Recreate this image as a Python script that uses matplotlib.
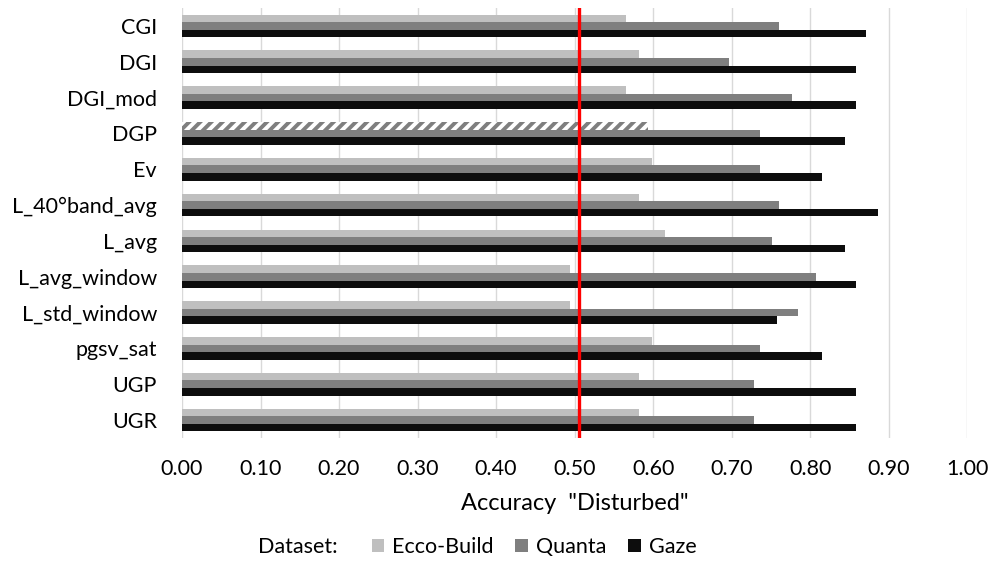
import matplotlib.pyplot as plt
import numpy as np

plt.rcParams['font.family'] = ['Lato', 'DejaVu Sans']
plt.rcParams['hatch.linewidth'] = 2.8

metrics = ["CGI", "DGI", "DGI_mod", "DGP", "Ev", "L_40°band_avg", "L_avg",
           "L_avg_window", "L_std_window", "pgsv_sat", "UGP", "UGR"]
ecco = [0.565, 0.582, 0.565, 0.594, 0.598, 0.582, 0.615, 0.494, 0.494, 0.598, 0.582, 0.582]
quanta = [0.760, 0.696, 0.777, 0.736, 0.736, 0.760, 0.752, 0.808, 0.785, 0.736, 0.729, 0.729]
gaze = [0.871, 0.858, 0.858, 0.844, 0.815, 0.886, 0.844, 0.858, 0.758, 0.815, 0.858, 0.858]
threshold = 0.505
hatched = "DGP"  # Ecco-Build bar drawn with hatch

fig = plt.figure(figsize=(9.89, 5.64), dpi=100)
ax = fig.add_axes([0.184, 0.2234, 0.794, 0.7624])

y = np.arange(len(metrics))
h = 0.21
c_ecco, c_quanta, c_gaze = "#bfbfbf", "#7f7f7f", "#0d0d0d"

bars_e = ax.barh(y - h, ecco, height=h, color=c_ecco, label="Ecco-Build")
ax.barh(y, quanta, height=h, color=c_quanta, label="Quanta")
ax.barh(y + h, gaze, height=h, color=c_gaze, label="Gaze")

# hatched bar
i = metrics.index(hatched)
bars_e[i].set_facecolor("white")
bars_e[i].set_edgecolor(c_quanta)
bars_e[i].set_hatch("///")
bars_e[i].set_linewidth(0)

ax.axvline(threshold, color="#ff0000", lw=2.4, zorder=5)

fs = 15.5
ax.set_xlim(0, 1.0)
ax.set_ylim(len(metrics) - 0.5, -0.5)
ax.set_xticks(np.arange(0, 1.01, 0.1))
ax.set_xticklabels([f"{v:.2f}" for v in np.arange(0, 1.01, 0.1)])
ax.set_yticks(y)
ax.set_yticklabels(metrics)
ax.tick_params(axis="both", length=0, labelsize=fs, colors="#000000")
ax.tick_params(axis="x", pad=15)
ax.tick_params(axis="y", pad=18)
ax.grid(axis="x", color="#d9d9d9", lw=1)
ax.set_axisbelow(True)
for s in ax.spines.values():
    s.set_visible(False)

ax.set_xlabel('Accuracy  "Disturbed"', fontsize=17, labelpad=10)

fig.text(0.261, 0.03, "Dataset:", fontsize=fs, va="center")
fig.legend(loc="center left", bbox_to_anchor=(0.367, 0.03), ncol=3, frameon=False,
           fontsize=fs, handlelength=0.6, handleheight=0.6, handletextpad=0.37,
           columnspacing=1.0, borderaxespad=0)

fig.savefig("out.png", dpi=100)
